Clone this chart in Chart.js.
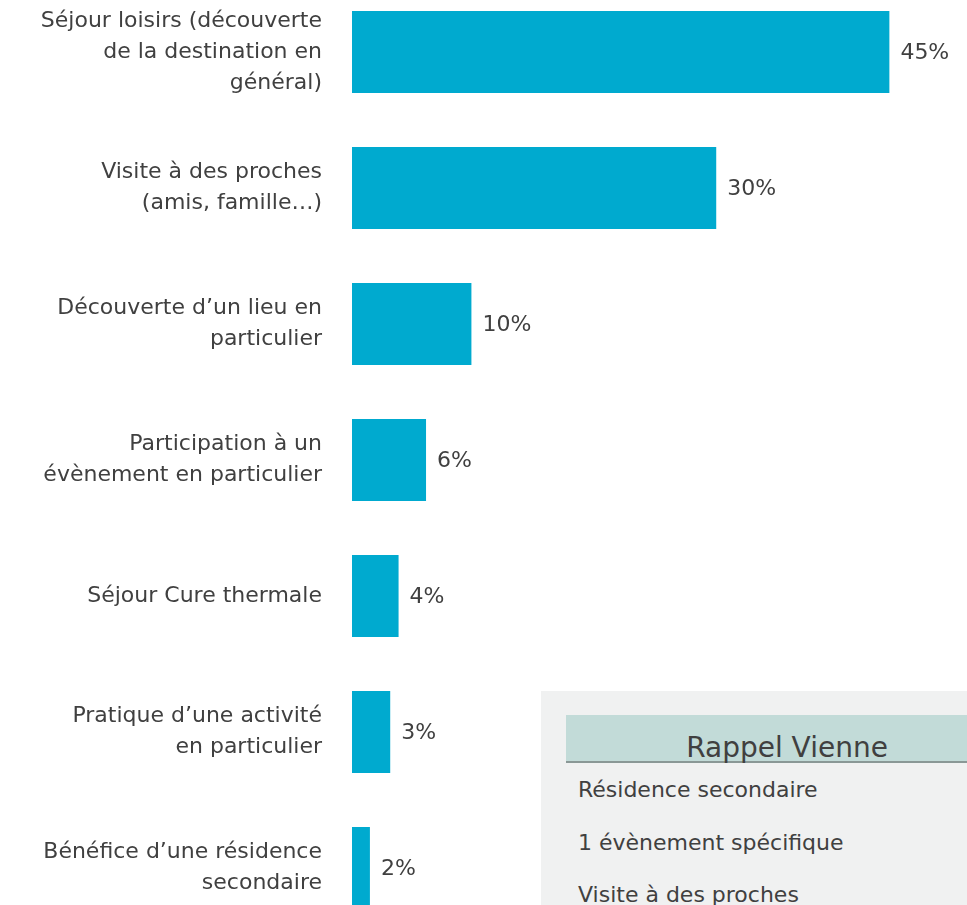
<!DOCTYPE html>
<html>
<head>
<meta charset="utf-8">
<script src="https://cdn.jsdelivr.net/npm/chart.js@4"></script>
<style>
  html, body { margin: 0; padding: 0; background: #fff; overflow: hidden; }
  body { width: 967px; height: 905px; position: relative; font-family: "DejaVu Sans", sans-serif; }
  #wrap { position: absolute; left: 0; top: -16px; width: 967px; height: 952px; }
  #panel { position: absolute; left: 541px; top: 691px; width: 480px; height: 240px; background: #f0f1f1; }
  #panel .head { position: absolute; left: 25px; top: 24px; width: 442px; height: 46px; background: #c2dbd8;
    border-bottom: 2px solid #8a9896; text-align: center; font-size: 28px; line-height: 66px; color: #404040; }
  #panel .item { position: absolute; left: 37px; font-size: 22px; line-height: 24px; color: #404040; }
</style>
</head>
<body>
<div id="wrap"><canvas id="chart"></canvas></div>
<div id="panel">
  <div class="head">Rappel Vienne</div>
  <div class="item" style="top:87px">Résidence secondaire</div>
  <div class="item" style="top:140px">1 évènement spécifique</div>
  <div class="item" style="top:192px">Visite à des proches</div>
</div>
<script>
// categories (multi-line labels) and values
const categories = [
  ['Séjour loisirs (découverte', 'de la destination en', 'général)'],
  ['Visite à des proches', '(amis, famille…)'],
  ['Découverte d’un lieu en', 'particulier'],
  ['Participation à un', 'évènement en particulier'],
  ['Séjour Cure thermale'],
  ['Pratique d’une activité', 'en particulier'],
  ['Bénéfice d’une résidence', 'secondaire']
];
const values = [45, 30.5, 10, 6.2, 3.9, 3.2, 1.5];
const valueLabels = ['45%', '30%', '10%', '6%', '4%', '3%', '2%'];

const FONT = '"DejaVu Sans", sans-serif';
const TEXT = '#404040';

// draw the % next to each bar
const barLabels = {
  id: 'barLabels',
  afterDatasetsDraw(chart) {
    const ctx = chart.ctx;
    const meta = chart.getDatasetMeta(0);
    ctx.save();
    ctx.font = '22px ' + FONT;
    ctx.fillStyle = TEXT;
    ctx.textBaseline = 'middle';
    ctx.textAlign = 'left';
    meta.data.forEach((bar, i) => {
      ctx.fillText(valueLabels[i], bar.x + 11, bar.y + 1);
    });
    ctx.restore();
  }
};

new Chart(document.getElementById('chart'), {
  type: 'bar',
  data: {
    labels: categories,
    datasets: [{
      data: values,
      backgroundColor: '#00aacf',
      borderWidth: 0,
      barPercentage: 1,
      categoryPercentage: 0.603
    }]
  },
  options: {
    indexAxis: 'y',
    responsive: true,
    maintainAspectRatio: false,
    animation: false,
    layout: { padding: 0 },
    plugins: { legend: { display: false }, tooltip: { enabled: false } },
    scales: {
      x: { display: false, min: 0, max: 51.5 },
      y: {
        grid: { display: false, drawTicks: false },
        border: { display: false },
        ticks: {
          color: TEXT,
          padding: 30,
          font: { family: FONT, size: 22, lineHeight: 1.41 }
        },
        afterFit(scale) {
          scale.width = 352;
          scale.paddingTop = 0;
          scale.paddingBottom = 0;
        }
      }
    }
  },
  plugins: [barLabels]
});
</script>
</body>
</html>
